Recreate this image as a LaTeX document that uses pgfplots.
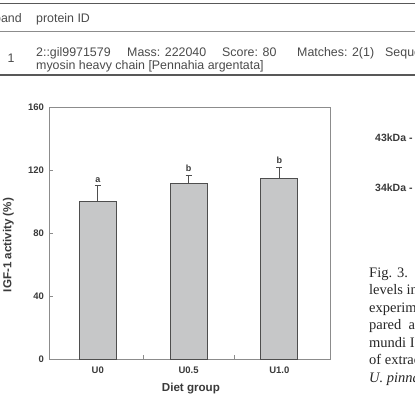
\documentclass[border=0pt]{standalone}
\usepackage{fontspec}
\setmainfont{Liberation Serif}
\newfontfamily\arial{Liberation Sans}
\usepackage{pgfplots}
\pgfplotsset{compat=1.18}

\definecolor{barfill}{HTML}{C6C7C8}
\definecolor{bardraw}{HTML}{4E4E4E}
\definecolor{axisgray}{HTML}{8C8C8C}
\definecolor{inkgray}{HTML}{3A3A3A}
\definecolor{tabletext}{HTML}{4A4A4A}

\begin{document}
\begin{tikzpicture}[x=1pt,y=1pt]
\useasboundingbox (0,0) rectangle (415,405);
\clip (0,0) rectangle (415,405);

% --- identification table above the figure ---
\draw[line width=1.6pt, color=inkgray!85] (-5,401.5) -- (420,401.5);
\draw[line width=0.8pt, color=axisgray] (-5,374) -- (420,374);
\draw[line width=1.8pt, color=inkgray!85] (-5,330) -- (420,330);
\begin{scope}[every node/.style={inner sep=0pt, anchor=base west, text=tabletext,
    font=\arial\fontsize{12.4}{13}\selectfont}]
  \node at (-6,382.5) {band};
  \node at (36,382.5) {protein ID};
  \node at (7.5,342.5) {1};
  \node at (36,348.5) {2::gil9971579};
  \node at (127,348.5) {Mass: 222040};
  \node at (222,348.5) {Score: 80};
  \node at (297,348.5) {Matches: 2(1)};
  \node at (385,348.5) {Sequence};
  \node at (36,335.5) {myosin heavy chain [Pennahia argentata]};
\end{scope}

% --- gel markers at the right ---
\begin{scope}[every node/.style={inner sep=0pt, anchor=base west, text=inkgray,
    font=\arial\bfseries\fontsize{10.5}{11}\selectfont}]
  \node at (375,263.5) {43kDa -};
  \node at (375,213.5) {34kDa -};
\end{scope}

% --- caption beside the figure ---
\begin{scope}[every node/.style={inner sep=0pt, anchor=base west, text=black!85,
    font=\fontsize{14.5}{17}\selectfont}]
  \node at (369,128) {Fig. 3.\ \ Changes};
  \node at (369,110.5) {levels in the};
  \node at (369,93) {experimental};
  \node at (369,75.5) {pared \ as};
  \node at (369,58) {mundi IGF-1};
  \node at (369,40.5) {of extract};
  \node at (369,23) {\itshape U. pinnatifida};
\end{scope}

% --- IGF-1 bar chart ---
\begin{axis}[
  at={(49pt,46pt)}, anchor=south west,
  scale only axis, width=281pt, height=252pt,
  ybar, bar width=37pt, bar shift=0pt,
  xmin=-0.538, xmax=2.559, ymin=0, ymax=160,
  xtick={0.5,1.5}, xticklabels={,},
  extra x ticks={0,1,2}, extra x tick labels={U0,U0.5,U1.0},
  extra x tick style={major tick length=0pt},
  ytick={0,40,80,120,160},
  tick align=inside, xtick pos=bottom, ytick pos=left,
  major tick length=4pt,
  axis line style={axisgray, line width=0.9pt},
  tick style={axisgray, line width=0.8pt},
  /pgf/number format/assume math mode=true,
  tick label style={font=\arial\bfseries\fontsize{9.5}{10}\selectfont, text=inkgray},
  yticklabel style={xshift=-1.5pt},
  xticklabel style={yshift=-4pt},
  ylabel={IGF-1 activity (\%)},
  ylabel style={at={(axis description cs:-0.145,0.452)}, anchor=center, rotate=0,
    font=\arial\bfseries\fontsize{11.6}{12}\selectfont, text=inkgray},
  xlabel={Diet group},
  xlabel style={at={(axis description cs:0.505,-0.119)}, anchor=center,
    font=\arial\bfseries\fontsize{11.6}{12}\selectfont, text=inkgray},
]
\addplot[fill=barfill, draw=bardraw, line width=0.9pt,
  error bars/.cd, y dir=plus, y explicit,
  error bar style={line width=0.9pt, bardraw},
  error mark options={rotate=90, mark size=3pt, line width=0.9pt, bardraw}]
  coordinates {(0,100) +- (0,10) (1,111.5) +- (0,5.3) (2,114.5) +- (0,7.4)};
\begin{scope}[every node/.style={anchor=base, inner sep=0pt, yshift=3.5pt,
    text=inkgray, font=\arial\bfseries\fontsize{9}{10}\selectfont}]
  \node at (axis cs:0,110) {a};
  \node at (axis cs:1,116.8) {b};
  \node at (axis cs:2,121.9) {b};
\end{scope}
\end{axis}
\end{tikzpicture}
\end{document}
